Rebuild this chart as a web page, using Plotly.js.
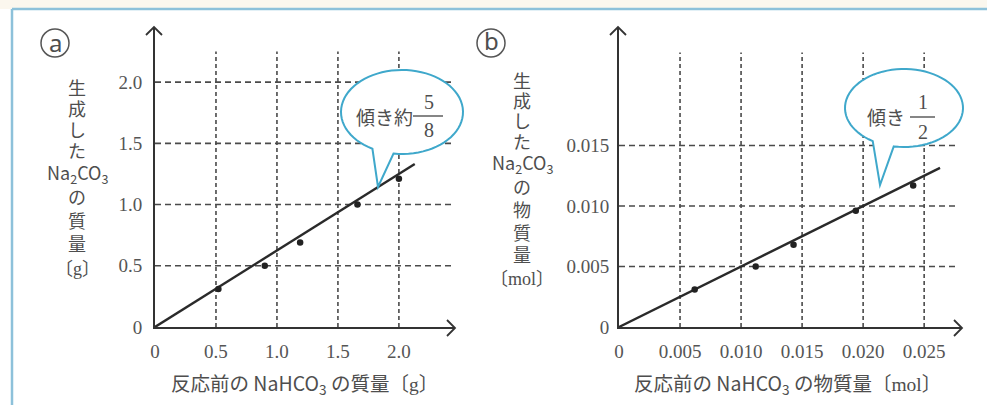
<!DOCTYPE html>
<html>
<head>
<meta charset="utf-8">
<script src="https://cdn.plot.ly/plotly-3.0.1.min.js"></script>
<style>
  html, body { margin: 0; padding: 0; background: #fff; }
  #chart { width: 987px; height: 405px; }
</style>
</head>
<body>
<div id="chart"></div>
<script>
// (a) mass of NaHCO3 before reaction vs mass of Na2CO3 produced [g]
const massTicks = [0, 0.5, 1.0, 1.5, 2.0];
const massTickText = ['0', '0.5', '1.0', '1.5', '2.0'];
const nahco3Mass = [0.52, 0.90, 1.19, 1.66, 2.00];
const na2co3Mass = [0.31, 0.50, 0.69, 1.00, 1.21];
const slopeMass = 5 / 8;
const fitMassEnd = 2.13;

// (b) amount of NaHCO3 before reaction vs amount of Na2CO3 produced [mol]
const molXTicks = [0, 0.005, 0.010, 0.015, 0.020, 0.025];
const molXTickText = ['0', '0.005', '0.010', '0.015', '0.020', '0.025'];
const molYTicks = [0, 0.005, 0.010, 0.015];
const molYTickText = ['0', '0.005', '0.010', '0.015'];
const nahco3Mol = [0.0062, 0.0112, 0.0143, 0.0194, 0.0241];
const na2co3Mol = [0.0031, 0.0050, 0.0068, 0.0096, 0.0117];
const slopeMol = 1 / 2;
const fitMolEnd = 0.0263;

// ---- page geometry helpers (pixel -> paper) ----
const W = 987, H = 405;
const px = p => p / W;
const py = p => 1 - p / H;
const pt = (x, y) => px(x).toFixed(5) + ',' + py(y).toFixed(5);

const INK = '#333333';
const TXT = '#4e4e4e';
const CJK = 'Noto Sans CJK JP, Noto Sans, sans-serif';
const SERIF = 'Liberation Serif, DejaVu Serif, serif';
const BUBBLE = '#3fa8cb';

// ---- traces ----
const traces = [
  {
    x: [0, fitMassEnd], y: [0, slopeMass * fitMassEnd],
    xaxis: 'x', yaxis: 'y', mode: 'lines',
    line: { color: '#2a2a2a', width: 2.4 }, hoverinfo: 'skip'
  },
  {
    x: nahco3Mass, y: na2co3Mass, xaxis: 'x', yaxis: 'y', mode: 'markers',
    marker: { color: '#222', size: 6.5 }
  },
  {
    x: [0, fitMolEnd], y: [0, slopeMol * fitMolEnd],
    xaxis: 'x2', yaxis: 'y2', mode: 'lines',
    line: { color: '#2a2a2a', width: 2.4 }, hoverinfo: 'skip'
  },
  {
    x: nahco3Mol, y: na2co3Mol, xaxis: 'x2', yaxis: 'y2', mode: 'markers',
    marker: { color: '#222', size: 6.5 }
  }
];

// ---- dashed grid (vertical lines stop short of the arrow tip) ----
const shapes = [];
function grid(xref, yref, xs, ys, xTop, yTop) {
  xs.filter(v => v !== 0).forEach(v => shapes.push({
    type: 'line', xref, yref, x0: v, x1: v, y0: 0, y1: yTop, layer: 'below',
    line: { color: '#4a4a4a', width: 1.6, dash: '4px,3px' }
  }));
  ys.filter(v => v !== 0).forEach(v => shapes.push({
    type: 'line', xref, yref, x0: 0, x1: xTop, y0: v, y1: v, layer: 'below',
    line: { color: '#4a4a4a', width: 1.6, dash: '6px,4px' }
  }));
}
grid('x', 'y', massTicks, massTicks, 2.47, 2.25);
grid('x2', 'y2', molXTicks, molYTicks, 0.0276, 0.0227);

// page frame: cream strip on top, light blue rule on top and left
shapes.push({ type: 'rect', xref: 'paper', yref: 'paper', x0: 0, x1: 1, y0: py(9), y1: 1,
  fillcolor: '#fbf7ee', line: { width: 0 }, layer: 'below' });
shapes.push({ type: 'line', xref: 'paper', yref: 'paper', x0: px(12), x1: 1, y0: py(9), y1: py(9),
  line: { color: '#8dc1da', width: 2.5 } });
shapes.push({ type: 'line', xref: 'paper', yref: 'paper', x0: px(12), x1: px(12), y0: py(9), y1: 0,
  line: { color: '#8dc1da', width: 2.5 } });

// open chevron arrowheads at the ends of the axes
function chevron(points) {
  shapes.push({ type: 'path', xref: 'paper', yref: 'paper',
    path: 'M' + points.map(p => pt(p[0], p[1])).join('L'),
    line: { color: INK, width: 1.8 } });
}
chevron([[447, 320], [455, 328], [447, 336]]);   // (a) horizontal
chevron([[146, 35], [154, 27], [162, 35]]);      // (a) vertical
chevron([[954, 320], [962, 328], [954, 336]]);   // (b) horizontal
chevron([[610, 35], [618, 27], [626, 35]]);      // (b) vertical

// circled panel marks
[[55, 43], [491, 43]].forEach(([cx, cy]) => shapes.push({
  type: 'circle', xref: 'paper', yref: 'paper',
  x0: px(cx - 14), x1: px(cx + 14), y0: py(cy + 14), y1: py(cy - 14),
  line: { color: '#555', width: 1.5 }
}));

// speech bubbles: ellipse with a pointed tail
function bubble(cx, cy, rx, ry, tA, tB, tipX, tipY) {
  const n = 72;
  const a0 = tA * Math.PI / 180, a1 = (tB - 360) * Math.PI / 180;
  let d = '';
  for (let i = 0; i <= n; i++) {
    const t = a0 + (a1 - a0) * i / n;
    d += (i === 0 ? 'M' : 'L') + pt(cx + rx * Math.cos(t), cy + ry * Math.sin(t));
  }
  d += 'L' + pt(tipX, tipY) + 'Z';
  shapes.push({ type: 'path', xref: 'paper', yref: 'paper', path: d,
    fillcolor: '#fff', line: { color: BUBBLE, width: 2 } });
}
bubble(402, 112, 61, 42, 98, 119, 378, 187);
bubble(904, 108, 59, 39, 100, 122, 880, 185);

// fraction bars inside the bubbles
shapes.push({ type: 'line', xref: 'paper', yref: 'paper', x0: px(413), x1: px(443), y0: py(116), y1: py(116),
  line: { color: '#444', width: 1.3 } });
shapes.push({ type: 'line', xref: 'paper', yref: 'paper', x0: px(910), x1: px(935), y0: py(117), y1: py(117),
  line: { color: '#444', width: 1.3 } });

// ---- annotations ----
const annotations = [];
function label(text, x, y, size, family) {
  annotations.push({
    xref: 'paper', yref: 'paper', x: px(x), y: py(y), text,
    showarrow: false, xanchor: 'center', yanchor: 'middle',
    font: { family: family || CJK, size: size || 20, color: TXT }
  });
}

// panel letters
label('a', 55, 42, 24, 'Noto Sans, sans-serif');
label('b', 491, 41, 24, 'Noto Sans, sans-serif');

// vertical y-axis titles
const sub = s => '<sub>' + s + '</sub>';
const na2co3 = 'Na' + sub('2') + 'CO' + sub('3');
const serifSpan = s => '<span style="font-family:Liberation Serif">' + s + '</span>';
[['生', 87], ['成', 108], ['し', 129], ['た', 150], [na2co3, 173], ['の', 196],
 ['質', 220], ['量', 243], ['〔' + serifSpan('g') + '〕', 267]]
  .forEach(([t, y]) => label(t, 77, y, 18));
[['生', 80], ['成', 100], ['し', 120], ['た', 141], [na2co3, 163], ['の', 186],
 ['物', 209], ['質', 232], ['量', 254], ['〔' + serifSpan('mol') + '〕', 277]]
  .forEach(([t, y]) => label(t, 522, y, 18));

// x-axis titles
label('反応前の NaHCO' + sub('3') + ' の質量〔' + serifSpan('g') + '〕', 304, 383, 19.5);
label('反応前の NaHCO' + sub('3') + ' の物質量〔' + serifSpan('mol') + '〕', 787, 383, 19.5);

// bubble texts
label('傾き約', 384, 116, 19);
label('5', 429, 102, 20, SERIF);
label('8', 429, 130, 20, SERIF);
label('傾き', 886, 117, 19);
label('1', 923, 102, 20, SERIF);
label('2', 923, 132, 20, SERIF);

// ---- axes ----
const tickFont = { family: SERIF, size: 19, color: '#555' };
function axis(domain, range, vals, text, anchor, len) {
  return {
    domain, range, anchor, tickvals: vals, ticktext: text,
    showgrid: false, zeroline: false, showline: true, linecolor: INK, linewidth: 2,
    ticks: 'outside', ticklen: len, tickcolor: 'rgba(0,0,0,0)',
    tickfont: tickFont, fixedrange: true
  };
}

const layout = {
  width: W, height: H,
  margin: { l: 0, r: 0, t: 0, b: 0 },
  paper_bgcolor: '#ffffff', plot_bgcolor: 'rgba(0,0,0,0)',
  showlegend: false,
  xaxis: axis([px(155), px(455)], [0, 2.46], massTicks, massTickText, 'y', 6),
  yaxis: axis([py(327), py(27)], [0, 2.45], massTicks, massTickText, 'x', 7),
  xaxis2: axis([px(619), px(962)], [0, 0.0281], molXTicks, molXTickText, 'y2', 6),
  yaxis2: axis([py(327), py(27)], [0, 0.0248], molYTicks, molYTickText, 'x2', 4),
  shapes, annotations
};

Plotly.newPlot('chart', traces, layout, { displayModeBar: false, staticPlot: true });
</script>
</body>
</html>
